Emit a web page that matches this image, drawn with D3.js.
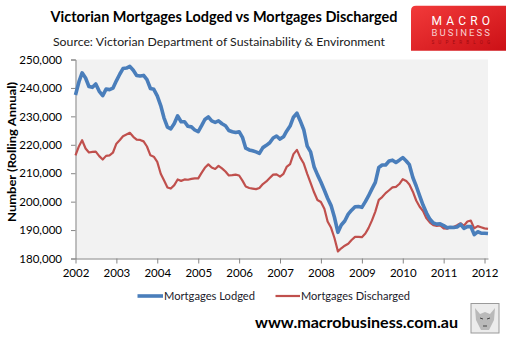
<!DOCTYPE html>
<html><head><meta charset="utf-8">
<script src="https://cdn.jsdelivr.net/npm/d3@7"></script>
<style>
html,body{margin:0;padding:0;background:#fff;}
svg{display:block;font-family:Lato,"Open Sans",sans-serif;}
</style></head>
<body><svg id="c" width="511" height="341"></svg>
<script>
// ---- data (thousands, monthly Jan 2002 .. Feb 2012) ----
const startMonth = "2002-01";
const lodged = [
237.5,242.2,245.3,243.5,240.5,240.2,241.4,238.8,237.3,239.6,239.4,239.9,
242.5,244.9,246.8,247.0,247.6,246.2,244.4,244.2,244.4,242.9,239.8,239.5,
237.2,233.8,229.5,226.2,225.6,227.5,230.2,228.1,228.1,226.5,226.3,225.2,
224.6,226.8,228.9,229.8,228.4,227.9,228.4,227.4,226.7,225.0,224.6,224.3,
224.6,222.5,218.8,218.2,217.9,217.5,217.0,219.0,219.8,220.7,222.4,223.1,
222.0,222.8,224.8,226.6,229.7,231.1,228.4,225.3,219.5,217.5,212.3,209.5,
206.9,204.0,201.2,198.6,194.5,189.2,191.8,193.2,195.6,197.0,198.2,198.3,
198.0,200.0,202.0,204.5,206.8,212.0,212.9,212.9,214.3,214.6,213.8,214.6,
215.5,214.3,213.0,208.5,205.5,202.0,198.8,196.0,193.8,192.5,192.1,192.2,
191.6,190.8,191.0,190.9,191.1,192.0,190.6,191.2,191.2,188.4,189.4,188.9,
188.9,188.8];
const discharged = [
216.3,219.5,221.6,218.7,217.3,217.5,217.6,216.0,214.8,216.1,216.3,217.2,
220.4,221.7,223.0,223.6,224.2,222.8,221.8,221.7,221.2,219.4,216.3,215.8,
214.0,209.8,207.5,205.0,204.6,205.8,207.8,207.3,207.8,207.7,208.0,208.2,
208.2,210.2,211.9,213.1,212.0,211.5,212.6,211.7,210.6,209.2,209.3,209.5,
209.2,207.3,205.3,204.8,204.6,204.4,204.8,206.2,207.1,208.3,209.5,209.6,
208.8,209.8,212.2,213.2,216.7,218.2,215.5,213.4,209.8,206.6,203.3,200.6,
199.9,197.5,193.0,190.8,187.2,182.5,183.6,184.5,185.2,186.5,187.6,187.6,
187.5,188.8,190.7,193.4,196.5,200.6,201.6,203.0,204.0,205.0,205.2,206.2,
207.9,207.3,206.0,203.5,200.4,198.2,196.7,194.1,192.6,191.7,191.5,191.6,
190.6,190.5,190.9,191.1,191.7,192.4,191.5,193.0,193.3,190.6,191.4,191.0,
190.6,190.4];
const yearLabels = ["2002","2003","2004","2005","2006","2007","2008","2009","2010","2011","2012"];
const yTicks = [180000,190000,200000,210000,220000,230000,240000,250000];
const seriesNames = ["Mortgages Lodged","Mortgages Discharged"];
const titleText = "Victorian Mortgages Lodged vs Mortgages Discharged";
const subtitleText = "Source: Victorian Department of Sustainability & Environment";
const yAxisTitle = "Number (Rolling Annual)";
const footerText = "www.macrobusiness.com.au";

// ---- build ----
const parse = d3.timeParse("%Y-%m");
const t0 = parse(startMonth);
const months = lodged.map((_, i) => d3.timeMonth.offset(t0, i));
const svg = d3.select("#c");

const L = 75.5, R = 488, T = 59.5, B = 258.5;
const x = d3.scaleTime().domain([months[0], months[months.length - 1]]).range([L, R]);
const y = d3.scaleLinear().domain([180000, 250000]).range([B, T]);

svg.append("rect").attr("x", L).attr("y", T).attr("width", R - L).attr("height", B - T).attr("fill", "#f2f2f2");

// y axis
const yAx = svg.append("g").attr("transform", `translate(${L},0)`)
  .call(d3.axisLeft(y).tickValues(yTicks).tickFormat(d3.format(",")).tickSize(4.5).tickPadding(9));
yAx.select(".domain").attr("stroke", "#868686");
yAx.selectAll(".tick line").attr("stroke", "#868686");
yAx.selectAll("text").attr("font-size", 11.5).attr("fill", "#000").attr("font-family", "Lato");

// x axis
const xAx = svg.append("g").attr("transform", `translate(0,${B})`)
  .call(d3.axisBottom(x).tickValues(yearLabels.map(s => parse(s + "-01"))).tickFormat(d3.timeFormat("%Y")).tickSize(5).tickSizeOuter(0).tickPadding(5));
xAx.select(".domain").attr("stroke", "#868686");
xAx.selectAll(".tick line").attr("stroke", "#868686");
xAx.selectAll("text").attr("font-size", 11.5).attr("fill", "#000").attr("font-family", "Lato");

// lines
const line = arr => d3.line().x((d, i) => x(months[i])).y(d => y(d * 1000))(arr);
svg.append("path").attr("d", line(discharged)).attr("fill", "none").attr("stroke", "#c0504d").attr("stroke-width", 2.2).attr("stroke-linejoin", "round");
svg.append("path").attr("d", line(lodged)).attr("fill", "none").attr("stroke", "#4a7ebb").attr("stroke-width", 3.6).attr("stroke-linejoin", "round");

// title
svg.append("text").attr("x", 224).attr("y", 22).attr("text-anchor", "middle")
  .attr("font-weight", "bold").attr("font-size", 15).attr("textLength", 347).attr("lengthAdjust", "spacingAndGlyphs")
  .text(titleText);
svg.append("text").attr("x", 219).attr("y", 45.5).attr("text-anchor", "middle")
  .attr("font-size", 12).attr("fill", "#1a1a1a").attr("textLength", 332).attr("lengthAdjust", "spacingAndGlyphs")
  .text(subtitleText);

// y axis title
svg.append("text").attr("transform", "translate(16,152) rotate(-90)").attr("text-anchor", "middle")
  .attr("font-weight", "bold").attr("font-size", 12).attr("textLength", 140).attr("lengthAdjust", "spacingAndGlyphs")
  .text(yAxisTitle);

// legend
const lg = [{x1: 137.5, x2: 163, tx: 164, tl: 91, c: "#4a7ebb", w: 3.6, n: seriesNames[0]},
            {x1: 275.5, x2: 300, tx: 301, tl: 109, c: "#c0504d", w: 2.2, n: seriesNames[1]}];
lg.forEach(d => {
  svg.append("line").attr("x1", d.x1).attr("x2", d.x2).attr("y1", 296).attr("y2", 296).attr("stroke", d.c).attr("stroke-width", d.w);
  svg.append("text").attr("x", d.tx).attr("y", 300).attr("font-size", 11.5).attr("fill", "#1a1a2a")
    .attr("textLength", d.tl).attr("lengthAdjust", "spacingAndGlyphs").text(d.n);
});

// footer
svg.append("text").attr("x", 255).attr("y", 327.5).attr("font-weight", "bold").attr("font-size", 16)
  .attr("textLength", 203).attr("lengthAdjust", "spacingAndGlyphs").text(footerText);

// wolf box
const wb = svg.append("g");
wb.append("rect").attr("x", 471).attr("y", 303.5).attr("width", 28).attr("height", 29.5).attr("fill", "#ececec").attr("stroke", "#9a9a9a").attr("stroke-width", 1);
wb.append("path").attr("d", "M475,308 L480,314 L485,312 L490,314 L495,308 L494,320 L489,330 L481,330 L476,320 Z").attr("fill", "#9a9a9a").attr("opacity", 0.6);
wb.append("path").attr("d", "M480,318 L483,319 M487,319 L490,318 M483,326 L487,326").attr("stroke", "#444").attr("stroke-width", 1);

// logo
const defs = svg.append("defs");
const g = defs.append("linearGradient").attr("id", "lg").attr("x1", 0).attr("y1", 0).attr("x2", 1).attr("y2", 1);
g.append("stop").attr("offset", 0).attr("stop-color", "#f23a3a");
g.append("stop").attr("offset", 1).attr("stop-color", "#cc1016");
svg.append("path").attr("d", "M416,5.7 H506 V50.7 H411 V10.7 Q411,5.7 416,5.7 Z").attr("fill", "url(#lg)");
svg.append("text").attr("x", 431.5).attr("y", 24.5).attr("font-size", 12).attr("fill", "#fff").attr("font-family", "Roboto")
  .attr("textLength", 58.5).attr("lengthAdjust", "spacing").text("MACRO");
svg.append("text").attr("x", 431.5).attr("y", 36).attr("font-size", 9.5).attr("fill", "#f8d0d0").attr("font-family", "Roboto")
  .attr("textLength", 58.5).attr("lengthAdjust", "spacing").text("BUSINESS");
svg.append("text").attr("x", 431.5).attr("y", 43.5).attr("font-size", 4.5).attr("fill", "#a00a10").attr("font-family", "Roboto")
  .attr("textLength", 58.5).attr("lengthAdjust", "spacing").text("SUPERBLOG");
</script></body></html>
